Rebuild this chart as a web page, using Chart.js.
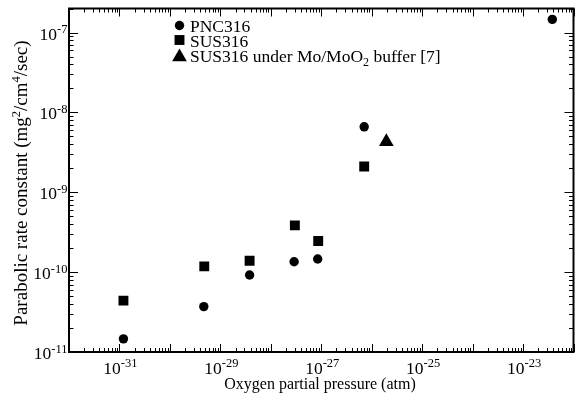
<!DOCTYPE html>
<html>
<head>
<meta charset="utf-8">
<script src="https://cdn.jsdelivr.net/npm/chart.js@4.4.1/dist/chart.umd.min.js"></script>
<style>
  html, body { margin: 0; padding: 0; background: #fff; }
  #wrap { width: 582px; height: 400px; }
</style>
</head>
<body>
<div id="wrap"><canvas id="rateChart"></canvas></div>
<script>
// data (oxygen partial pressure in atm, rate constant in mg2/cm4/sec)
const pncPressure = [1.2e-31, 4.7e-30, 3.8e-29, 2.9e-28, 8.5e-28, 7.1e-27, 3.8e-23];
const pncRate = [1.46e-11, 3.7e-11, 9.2e-11, 1.35e-10, 1.46e-10, 6.6e-9, 1.46e-7];
const susPressure = [1.2e-31, 4.8e-30, 3.8e-29, 3.0e-28, 8.7e-28, 7.1e-27];
const susRate = [4.4e-11, 1.18e-10, 1.39e-10, 3.85e-10, 2.45e-10, 2.1e-9];
const bufferPressure = [1.95e-26];
const bufferRate = [4.3e-9];

const xTickExps = [-31, -29, -27, -25, -23];
const yTickExps = [-11, -10, -9, -8, -7];

const FONT = "'Liberation Serif', 'Times New Roman', serif";

function toPoints(xs, ys) {
  return xs.map((x, i) => ({ x: x, y: ys[i] }));
}

// draws text made of normal / superscript / subscript pieces
function drawRich(ctx, parts, x, y, align) {
  let total = 0;
  parts.forEach((p) => {
    ctx.font = p.size + "px " + FONT;
    p.w = ctx.measureText(p.t).width;
    total += p.w;
  });
  let cx = x;
  if (align === "center") cx = x - total / 2;
  if (align === "right") cx = x - total;
  ctx.textAlign = "left";
  ctx.textBaseline = "alphabetic";
  parts.forEach((p) => {
    ctx.font = p.size + "px " + FONT;
    ctx.fillText(p.t, cx, y + (p.dy || 0));
    cx += p.w;
  });
}

function powerLabel(exp) {
  return [
    { t: "10", size: 17.5 },
    { t: String(exp), size: 12.5, dy: -6.5 },
  ];
}

const framePlugin = {
  id: "frame",
  afterDraw(chart) {
    const ctx = chart.ctx;
    const a = chart.chartArea;
    const xs = chart.scales.x;
    const ys = chart.scales.y;
    ctx.save();
    ctx.fillStyle = "#000";
    ctx.strokeStyle = "#000";

    // frame
    ctx.lineWidth = 2;
    ctx.strokeRect(a.left, a.top, a.right - a.left, a.bottom - a.top);

    // inward ticks on all sides
    ctx.lineWidth = 1;
    ctx.beginPath();
    for (let e = -32; e <= -22; e++) {
      for (let m = 1; m <= 9; m++) {
        const v = m * Math.pow(10, e);
        if (v < xs.min * 0.999 || v > xs.max * 1.001) continue;
        const len = m === 1 ? 8 : 4;
        const px = Math.round(xs.getPixelForValue(v)) + 0.5;
        ctx.moveTo(px, a.bottom);
        ctx.lineTo(px, a.bottom - len);
        ctx.moveTo(px, a.top);
        ctx.lineTo(px, a.top + len);
      }
    }
    for (let e = -11; e <= -7; e++) {
      for (let m = 1; m <= 9; m++) {
        const v = m * Math.pow(10, e);
        if (v < ys.min * 0.999 || v > ys.max * 1.001) continue;
        const len = m === 1 ? 9 : 4.5;
        const py = Math.round(ys.getPixelForValue(v)) + 0.5;
        ctx.moveTo(a.left, py);
        ctx.lineTo(a.left + len, py);
        ctx.moveTo(a.right, py);
        ctx.lineTo(a.right - len, py);
      }
    }
    ctx.stroke();

    // tick labels
    xTickExps.forEach((e) => {
      const px = xs.getPixelForValue(Math.pow(10, e));
      drawRich(ctx, powerLabel(e), px + 1, 373.5, "center");
    });
    yTickExps.forEach((e) => {
      const py = ys.getPixelForValue(Math.pow(10, e));
      drawRich(ctx, powerLabel(e), 67.5, py + 7, "right");
    });

    // axis titles
    drawRich(ctx, [{ t: "Oxygen partial pressure (atm)", size: 16 }], 320, 388.5, "center");
    ctx.save();
    ctx.translate(27, 183);
    ctx.rotate(-Math.PI / 2);
    drawRich(ctx, [
      { t: "Parabolic rate constant (mg", size: 19 },
      { t: "2", size: 12.5, dy: -7.5 },
      { t: "/cm", size: 19 },
      { t: "4", size: 12.5, dy: -7.5 },
      { t: "/sec)", size: 19 },
    ], 0, 0, "center");
    ctx.restore();

    // legend
    const rows = [
      { ds: chart.data.datasets[0], y: 25.5, parts: [{ t: "PNC316", size: 17.5 }] },
      { ds: chart.data.datasets[1], y: 40, parts: [{ t: "SUS316", size: 17.5 }] },
      { ds: chart.data.datasets[2], y: 57, parts: [
        { t: "SUS316 under Mo/MoO", size: 17.5 },
        { t: "2", size: 12, dy: 4 },
        { t: " buffer [7]", size: 17.5 },
      ] },
    ];
    rows.forEach((r, i) => {
      Chart.helpers.drawPoint(ctx, {
        pointStyle: r.ds.pointStyle,
        radius: r.ds.pointRadius,
        borderWidth: 0,
        rotation: 0,
      }, 179.5, r.y);
      drawRich(ctx, r.parts, 190, 31.7 + i * 15, "left");
    });

    ctx.restore();
  },
};

const ctx = document.getElementById("rateChart").getContext("2d");

new Chart(ctx, {
  type: "scatter",
  data: {
    datasets: [
      {
        label: "PNC316",
        data: toPoints(pncPressure, pncRate),
        pointStyle: "circle",
        pointRadius: 4.7,
        backgroundColor: "#000",
        borderColor: "#000",
        borderWidth: 0,
      },
      {
        label: "SUS316",
        data: toPoints(susPressure, susRate),
        pointStyle: "rect",
        pointRadius: 7,
        backgroundColor: "#000",
        borderColor: "#000",
        borderWidth: 0,
      },
      {
        label: "SUS316 under Mo/MoO2 buffer [7]",
        data: toPoints(bufferPressure, bufferRate),
        pointStyle: "triangle",
        pointRadius: 8.5,
        backgroundColor: "#000",
        borderColor: "#000",
        borderWidth: 0,
      },
    ],
  },
  options: {
    responsive: true,
    maintainAspectRatio: false,
    animation: false,
    layout: { padding: { left: 69, right: 4, top: 7, bottom: 48 } },
    plugins: {
      legend: { display: false },
      tooltip: { enabled: false },
    },
    scales: {
      x: { type: "logarithmic", min: 1e-32, max: 1e-22, display: false },
      y: { type: "logarithmic", min: 1e-11, max: 2e-7, display: false },
    },
  },
  plugins: [framePlugin],
});
</script>
</body>
</html>
